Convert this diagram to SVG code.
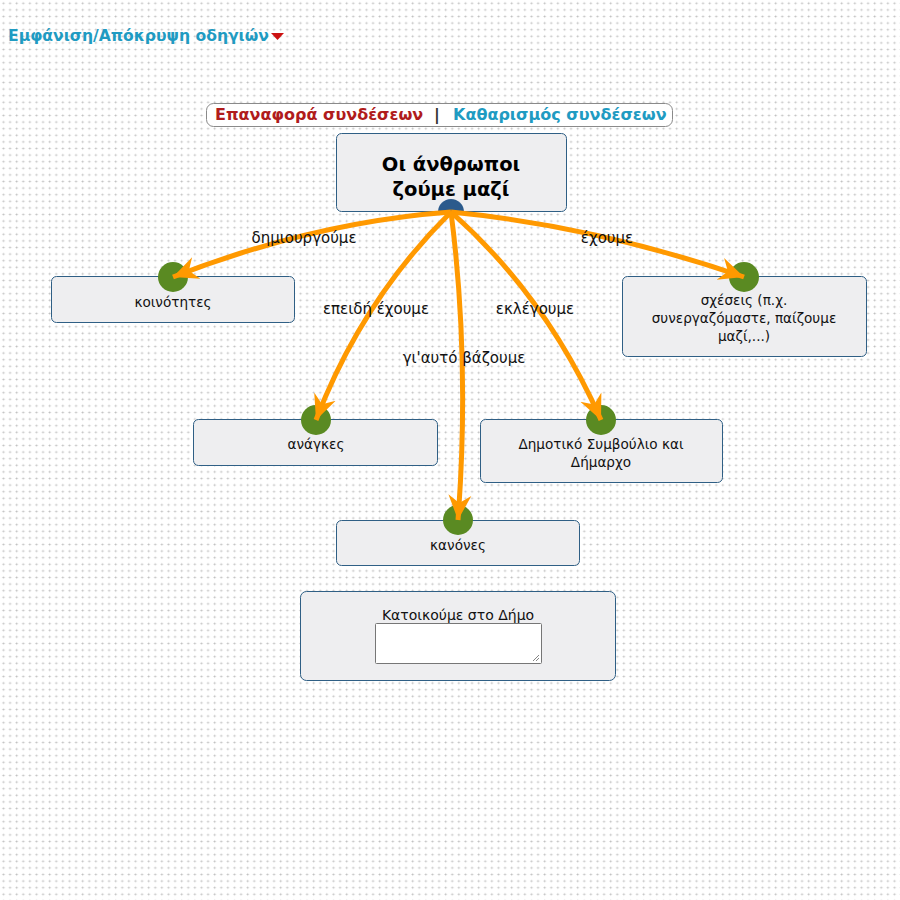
<svg xmlns="http://www.w3.org/2000/svg" width="900" height="900" viewBox="0 0 900 900">
  <defs>
    <pattern id="grid" x="0" y="0" width="6.6" height="6.6" patternUnits="userSpaceOnUse">
      <rect x="2" y="2.8" width="3" height="1" fill="#e0e0e0"/>
      <rect x="3" y="1.8" width="1" height="3" fill="#e0e0e0"/>
      <rect x="3" y="2.8" width="1" height="1" fill="#bcbcbc"/>
    </pattern>
    <marker id="arr" markerUnits="userSpaceOnUse" markerWidth="30" markerHeight="30" refX="25" refY="12" orient="auto" viewBox="0 0 30 24">
      <path d="M25,12 L0,0.5 L8,12 L0,23.5 Z" fill="#ff9900"/>
    </marker>
    <style>
      .node{fill:#eeeef0;stroke:#2f5f85;stroke-width:1}
      .t{font-family:"DejaVu Sans",Verdana,sans-serif;font-size:13.6px;fill:#111;text-anchor:middle}
      .big{font-size:14px}
      .lbl{font-family:"DejaVu Sans",Verdana,sans-serif;font-size:15px;fill:#111;text-anchor:middle}
      .hdr{font-family:"DejaVu Sans",Verdana,sans-serif;font-weight:bold}
      .dot{fill:#5a8a22}
      .edge{fill:none;stroke:#ff9900;stroke-width:5;marker-end:url(#arr)}
    </style>
  </defs>
  <rect width="900" height="900" fill="#ffffff"/>
  <rect width="900" height="900" fill="url(#grid)"/>

  <g id="toggle">
    <text class="hdr" x="8" y="41" font-size="15.6" fill="#1f9bc2">Εμφάνιση/Απόκρυψη οδηγιών</text>
    <path d="M271,33 L284,33 L277.5,40 Z" fill="#cc1111"/>
  </g>

  <g id="toolbar">
    <rect x="206.5" y="103.5" width="466" height="23" rx="7" fill="#ffffff" stroke="#8a8a8a"/>
    <text class="hdr" x="215" y="120" font-size="16" fill="#b01c1c">Επαναφορά συνδέσεων</text>
    <text class="hdr" x="434" y="120" font-size="16" fill="#333">|</text>
    <text class="hdr" x="453" y="120" font-size="16" fill="#1f9bc2">Καθαρισμός συνδέσεων</text>
  </g>

  <g id="node-main">
    <rect class="node" x="336.5" y="133.5" width="230" height="78" rx="5"/>
    <text class="hdr" x="451" y="171" font-size="19.5" text-anchor="middle" fill="#000">Οι άνθρωποι</text>
    <text class="hdr" x="451" y="196" font-size="19.5" text-anchor="middle" fill="#000">ζούμε μαζί</text>
    <path d="M438,212 A13,13 0 0 1 464,212 Z" fill="#2b5a8c"/>
  </g>

  <g id="node-koinotites">
    <rect class="node" x="51.5" y="276.5" width="243" height="46" rx="5"/>
    <circle class="dot" cx="173" cy="277" r="15"/>
    <text class="t" x="173" y="307">κοινότητες</text>
  </g>

  <g id="node-scheseis">
    <rect class="node" x="622.5" y="276.5" width="244" height="80" rx="5"/>
    <circle class="dot" cx="744" cy="277" r="15"/>
    <text class="t" x="744" y="305">σχέσεις (π.χ.</text>
    <text class="t" x="744" y="323">συνεργαζόμαστε, παίζουμε</text>
    <text class="t" x="744" y="341">μαζί,...)</text>
  </g>

  <g id="node-anagkes">
    <rect class="node" x="193.5" y="419.5" width="244" height="46" rx="5"/>
    <circle class="dot" cx="316" cy="420" r="15"/>
    <text class="t" x="316" y="449">ανάγκες</text>
  </g>

  <g id="node-dimotiko">
    <rect class="node" x="480.5" y="419.5" width="242" height="63" rx="5"/>
    <circle class="dot" cx="601" cy="420" r="15"/>
    <text class="t" x="601" y="449">Δημοτικό Συμβούλιο και</text>
    <text class="t" x="601" y="467">Δήμαρχο</text>
  </g>

  <g id="node-kanones">
    <rect class="node" x="336.5" y="520.5" width="243" height="45" rx="5"/>
    <circle class="dot" cx="458" cy="520" r="15"/>
    <text class="t" x="458" y="550">κανόνες</text>
  </g>

  <g id="node-katoikoume">
    <rect class="node" x="300.5" y="591.5" width="315" height="89" rx="6"/>
    <text class="t big" x="458" y="620">Κατοικούμε στο Δήμο</text>
    <rect x="375.5" y="623.5" width="166" height="40" fill="#ffffff" stroke="#767676" rx="1"/>
    <path d="M533,661 L539,655 M536,661 L539,658" stroke="#666" stroke-width="0.8"/>
  </g>

  <g id="connectors">
    <path class="edge" d="M451,212 Q314,222 173,277"/>
    <path class="edge" d="M451,212 Q596,226 744,277"/>
    <path class="edge" d="M451,212 Q362,300 316,420"/>
    <path class="edge" d="M451,212 Q546,296 601,420"/>
    <path class="edge" d="M451,212 Q470,360 458,520"/>
    <text class="lbl" x="304" y="243">δημιουργούμε</text>
    <text class="lbl" x="607" y="243">έχουμε</text>
    <text class="lbl" x="376" y="314">επειδή έχουμε</text>
    <text class="lbl" x="535" y="314">εκλέγουμε</text>
    <text class="lbl" x="464" y="363">γι'αυτό βάζουμε</text>
  </g>
</svg>
